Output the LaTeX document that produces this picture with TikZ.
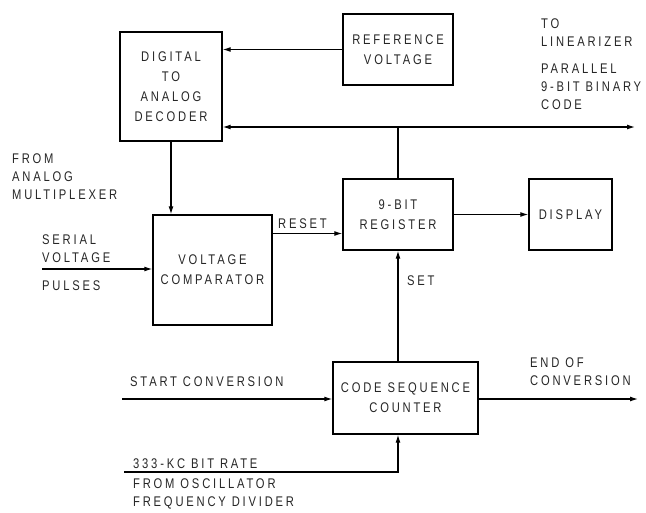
\documentclass[tikz,border=0pt]{standalone}
\usepackage{fontspec}
\newfontfamily\labfont[FakeStretch=0.8,LetterSpace=20]{Liberation Sans}
\usetikzlibrary{arrows.meta}
\begin{document}
\begin{tikzpicture}[x=1pt,y=-1pt,
  box/.style={draw,line width=1.4pt,rectangle,inner sep=0pt,align=center,
    font={\fontsize{14}{20}\selectfont\labfont},text=black!85},
  lab/.style={inner sep=0pt,font={\fontsize{14}{18}\selectfont\labfont},text=black!85},
  arr/.style={line width=1.2pt,-{Latex[length=8pt,width=5pt]}},
  ln/.style={line width=1.2pt}]
\useasboundingbox (0,0) rectangle (646,512);
% boxes
\node[box,minimum width=102pt,minimum height=109pt] (dac) at (171,86.5) {DIGITAL\\TO\\ANALOG\\DECODER};
\node[box,minimum width=110pt,minimum height=71pt] (ref) at (398,49.5) {REFERENCE\\VOLTAGE};
\node[box,minimum width=119pt,minimum height=110pt] (comp) at (212.5,270) {VOLTAGE\\COMPARATOR};
\node[box,minimum width=110pt,minimum height=71pt] (reg) at (398,214.5) {9-BIT\\REGISTER};
\node[box,minimum width=83pt,minimum height=71pt] (disp) at (570.5,214.5) {DISPLAY};
\node[box,minimum width=145pt,minimum height=72pt] (cnt) at (405.5,398) {CODE SEQUENCE\\COUNTER};
% free ends
\coordinate (busR) at (635,127);
\coordinate (sIn) at (42,269);
\coordinate (stIn) at (122,399);
\coordinate (eoc) at (638,399);
\coordinate (kc) at (124,472);
% connectors
\draw[arr] (ref.west) -- (ref.west -| dac.east);
\draw[ln] (reg.north) -- (reg.north |- busR) coordinate (bj);
\draw[arr] (bj) -- (bj -| dac.east);
\draw[arr] (bj) -- (busR);
\draw[arr] (dac.south) -- (dac.south |- comp.north);
\draw[arr] (sIn) -- (sIn -| comp.west);
\draw[arr] ([yshift=-19pt]comp.east |- reg.center) -- ([yshift=-19pt]reg.west);
\draw[arr] (reg.east) -- (disp.west);
\draw[arr] (reg.south |- cnt.north) -- (reg.south);
\draw[arr] (stIn) -- (stIn -| cnt.west);
\draw[arr] (cnt.east |- eoc) -- (eoc);
\draw[arr] (kc) -| (cnt.south -| reg.south);
% labels
\node[lab,anchor=west,align=left] (tolin) at (541,32.5) {TO\\LINEARIZER};
\node[lab,anchor=west,align=left] (par) at (541,86.5) {PARALLEL\\9-BIT BINARY\\CODE};
\node[lab,anchor=west,align=left] (from) at (12,176.5) {FROM\\ANALOG\\MULTIPLEXER};
\node[lab,anchor=west,align=left] (ser) at (42,248.5) {SERIAL\\VOLTAGE};
\node[lab,anchor=west] (pul) at (42,286) {PULSES};
\node[lab,anchor=west] (rst) at (278,224) {RESET};
\node[lab,anchor=west] (set) at (407,281) {SET};
\node[lab,anchor=west] (start) at (130,382) {START CONVERSION};
\node[lab,anchor=west,align=left] (eocl) at (530,371.5) {END OF\\CONVERSION};
\node[lab,anchor=west] (kcl) at (133,464) {333-KC BIT RATE};
\node[lab,anchor=west,align=left] (osc) at (133,494) {FROM OSCILLATOR\\FREQUENCY DIVIDER};
\end{tikzpicture}
\end{document}
